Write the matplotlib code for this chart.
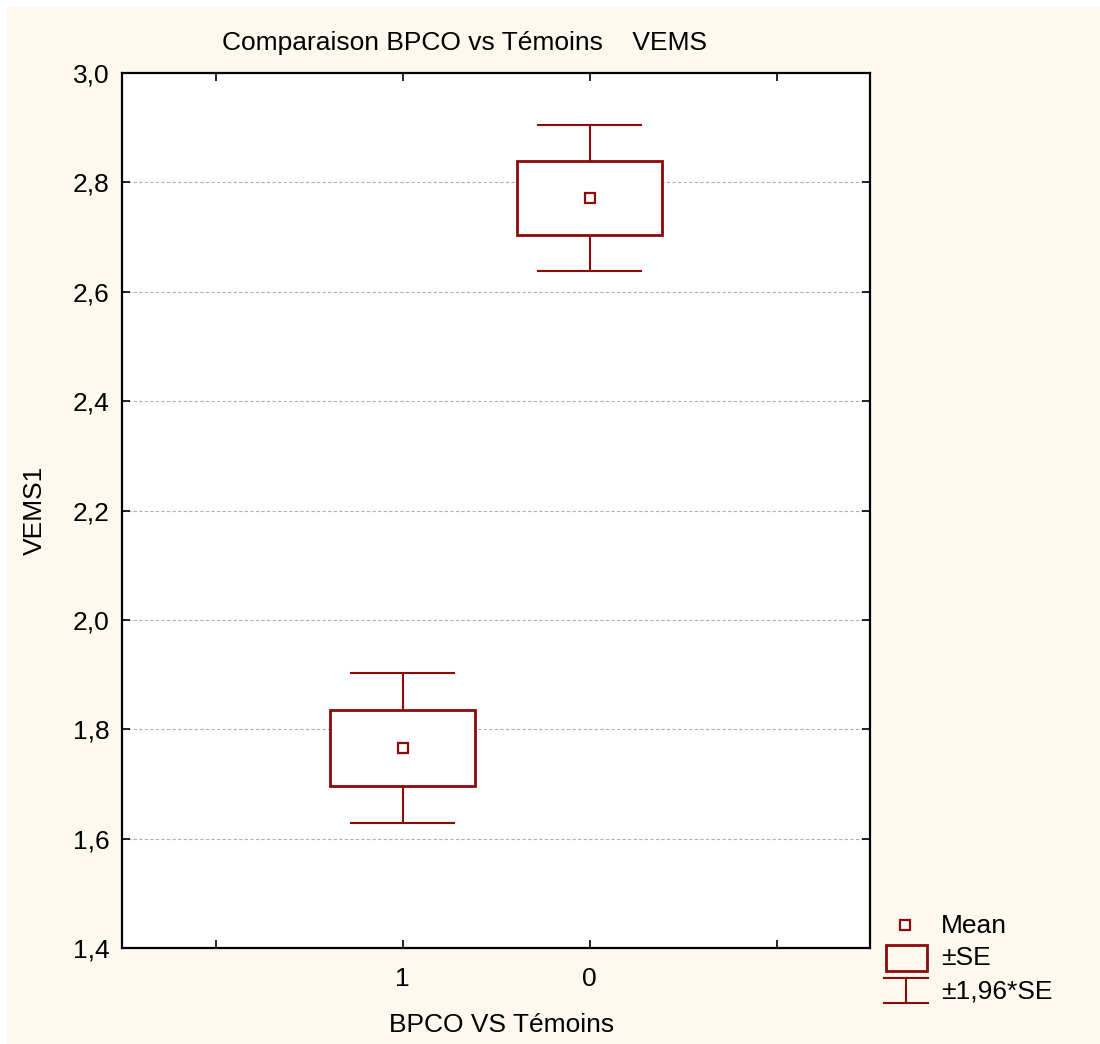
import matplotlib
matplotlib.use("Agg")
import matplotlib.pyplot as plt
from matplotlib.patches import Rectangle
from matplotlib.lines import Line2D

plt.rcParams['font.family'] = ['Liberation Sans', 'DejaVu Sans']

# Données
groupes = ['1', '0']
positions = [2, 3]
moyennes = [1.766, 2.771]
se = [0.070, 0.068]
yticks = [1.4, 1.6, 1.8, 2.0, 2.2, 2.4, 2.6, 2.8, 3.0]

rouge = '#8B0A0A'
creme = '#FDF9EE'
W, H = 1100, 1044
fs = 19

fig = plt.figure(figsize=(11, 10.44), dpi=100)
fig.patch.set_facecolor('white')
# fond crème (bande blanche en haut et à gauche)
fig.add_artist(Rectangle((7 / W, 0), 1, 1 - 7 / H, transform=fig.transFigure,
                         facecolor=creme, edgecolor='none', zorder=-10))

ax = fig.add_axes([122 / W, 1 - 948 / H, 748 / W, 875 / H])
ax.set_facecolor('white')

larg_boite = 0.78
larg_barre = 0.556
for x, m, s in zip(positions, moyennes, se):
    # moustaches ±1,96*SE
    ax.plot([x, x], [m + s, m + 1.96 * s], color=rouge, lw=1.5, zorder=3)
    ax.plot([x, x], [m - s, m - 1.96 * s], color=rouge, lw=1.5, zorder=3)
    ax.plot([x - larg_barre / 2, x + larg_barre / 2], [m + 1.96 * s] * 2, color=rouge, lw=1.5, zorder=3)
    ax.plot([x - larg_barre / 2, x + larg_barre / 2], [m - 1.96 * s] * 2, color=rouge, lw=1.5, zorder=3)
    # boîte ±SE
    ax.add_patch(Rectangle((x - larg_boite / 2, m - s), larg_boite, 2 * s,
                           facecolor='white', edgecolor=rouge, lw=2, zorder=4))
    # moyenne
    ax.plot(x, m, 's', ms=7, mfc='white', mec=rouge, mew=1.6, zorder=5)

ax.set_xlim(0.5, 4.5)
ax.set_ylim(1.4, 3.0)
ax.set_xticks([1, 2, 3, 4])
ax.set_xticklabels(['', groupes[0], groupes[1], ''])
ax.set_yticks(yticks)
ax.set_yticklabels([f'{v:.1f}'.replace('.', ',') for v in yticks])
ax.tick_params(direction='in', length=6, width=1.2, labelsize=fs, pad=9,
               top=True, right=True)
ax.tick_params(axis='x', pad=14)
for sp in ax.spines.values():
    sp.set_linewidth(1.6)

for v in yticks[1:-1]:
    ax.axhline(v, color='#b0b0b0', lw=0.8, ls=(0, (3, 2)), zorder=1)

fig.text(464 / W, 1 - 43 / H, 'Comparaison BPCO vs Témoins    VEMS',
         ha='center', va='center', fontsize=fs)
fig.text(502 / W, 1 - 1025 / H, 'BPCO VS Témoins', ha='center', va='center', fontsize=fs)
fig.text(35 / W, 1 - 510 / H, 'VEMS1', ha='center', va='center', rotation=90, fontsize=fs)

# légende dessinée à la main (coordonnées pixels)
def px(x, y):
    return x / W, 1 - y / H

fig.add_artist(Line2D([px(905, 0)[0]], [px(0, 925)[1]], marker='s', ms=7, mfc='white',
                      mec=rouge, mew=1.6, transform=fig.transFigure))
fig.add_artist(Rectangle(px(886, 971), 41 / W, 26 / H, transform=fig.transFigure,
                         facecolor='none', edgecolor=rouge, lw=2))
x0, x1, xm = 884 / W, 928 / W, 906 / W
fig.add_artist(Line2D([x0, x1], [px(0, 978)[1]] * 2, color=rouge, lw=1.5, transform=fig.transFigure))
fig.add_artist(Line2D([x0, x1], [px(0, 1003)[1]] * 2, color=rouge, lw=1.5, transform=fig.transFigure))
fig.add_artist(Line2D([xm, xm], [px(0, 978)[1], px(0, 1003)[1]], color=rouge, lw=1.5, transform=fig.transFigure))
fig.text(941 / W, 1 - 926 / H, 'Mean', va='center', fontsize=fs)
fig.text(941 / W, 1 - 958 / H, '±SE', va='center', fontsize=fs)
fig.text(941 / W, 1 - 991 / H, '±1,96*SE', va='center', fontsize=fs)

fig.savefig('out.png', dpi=100, facecolor=fig.get_facecolor())
